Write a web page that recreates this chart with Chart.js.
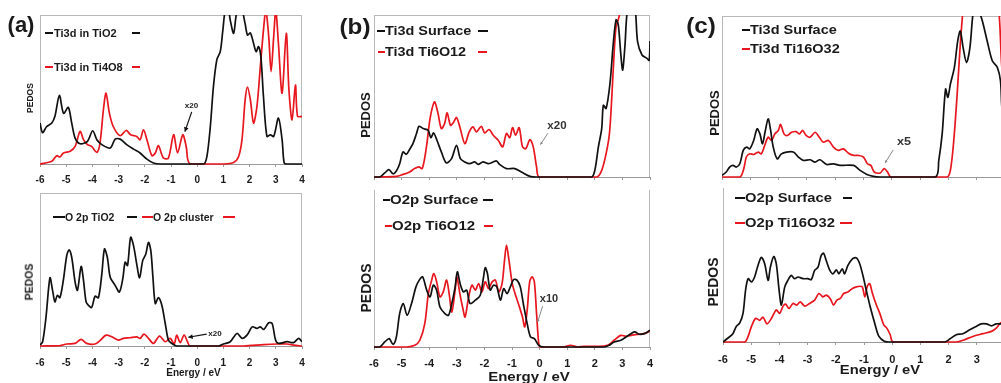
<!DOCTYPE html>
<html>
<head>
<meta charset="utf-8">
<script src="https://cdn.jsdelivr.net/npm/chart.js@4.4.1/dist/chart.umd.min.js"></script>
<style>
html,body{margin:0;padding:0;width:1001px;height:383px;overflow:hidden;background:#fff;}
body{position:relative;}
.t{position:absolute;font-family:'Liberation Sans',Arial,Helvetica,sans-serif;font-weight:bold;color:#1a1a1a;white-space:nowrap;line-height:1;z-index:3;}
.c{transform:translate(-50%,-50%);}
.l{transform-origin:left center;}
.seg{position:absolute;z-index:3;}
.rot{transform:translate(-50%,-50%) rotate(-90deg);}
</style>
</head>
<body>
<script>
// ---------------- DATA ----------------
const energyTicks = [-6,-5,-4,-3,-2,-1,0,1,2,3,4];

// (a) top : Ti3d in TiO2 (black) / Ti3d in Ti4O8 (red)
const aTopTiO2E = [-6,-5.9,-5.75,-5.55,-5.43,-5.26,-5.1,-4.92,-4.79,-4.66,-4.47,-4.19,-3.99,-3.83,-3.64,-3.32,-3.13,-2.94,-2.69,-2.43,-2.18,-1.92,-1.67,-1.41,0.24,0.37,0.5,0.62,0.75,0.88,0.98,1.07,1.18,1.26,1.39,1.49,1.58,1.7,1.83,1.92,2.03,2.15,2.25,2.34,2.43,2.53,2.66,2.79,2.92,3.1,3.24,3.32,3.43,4];
const aTopTiO2V = [27.5,21,25,27.5,32,46,34,38,27.5,17.4,13.6,15.2,22.3,16.3,13,10.7,16.7,16.7,13,10,7.4,3.3,0.7,0,0,5,25,52,70,75.4,90,103,105,96.7,87.7,100,104,104,94,86.6,88,81,75.4,78.8,72,45,18.5,19.6,18.5,30.8,16.3,0.7,0,0];
const aTopTi4O8E = [-6,-5.55,-5.36,-5.24,-5.1,-4.85,-4.66,-4.47,-4.34,-4.19,-4.03,-3.83,-3.71,-3.58,-3.48,-3.35,-3.2,-2.94,-2.71,-2.54,-2.31,-2.18,-2.05,-1.92,-1.73,-1.6,-1.48,-1.29,-1.1,-0.9,-0.75,-0.55,-0.42,-0.27,1.0,1.39,1.58,1.71,1.83,1.92,2.03,2.15,2.28,2.41,2.53,2.62,2.73,2.82,2.92,3.0,3.1,3.24,3.4,3.5,3.62,3.75,3.83,4];
const aTopTi4O8V = [0,1.8,5.6,4.7,7.4,8.5,11.8,21.9,16.3,13,11.8,7.8,14,36.4,47.5,34,25,19,22.5,19.6,18.5,16.3,23,16.3,5.6,7.4,12.3,4,4,19.6,7.4,19.6,11.8,0,0,1,5,16.3,43,51.6,43,27.5,38.6,65.4,90,103,85.5,62,85.5,103,81,47.5,87.7,50,29.7,53,32,32];

// (a) bottom : O 2p TiO2 (black) / O 2p cluster (red)
const aBotTiO2E = [-6,-5.9,-5.77,-5.62,-5.52,-5.43,-5.34,-5.24,-5.11,-4.98,-4.89,-4.79,-4.66,-4.57,-4.43,-4.34,-4.24,-4.15,-4.03,-3.9,-3.77,-3.64,-3.54,-3.43,-3.32,-3.13,-2.97,-2.84,-2.75,-2.66,-2.54,-2.43,-2.31,-2.2,-2.08,-1.96,-1.86,-1.77,-1.69,-1.6,-1.48,-1.35,-1.22,-1.1,-0.97,-0.78,0.82,1.0,1.26,1.52,1.71,1.9,2.1,2.28,2.41,2.54,2.73,2.86,2.99,3.1,3.43,3.68,3.87,4];
const aBotTiO2V = [0.6,2.8,19,44.6,36.4,28.8,33.1,31.6,42.9,59,62.8,58,41.8,36.4,52,42.9,28.8,26.6,25.1,32.5,31.6,47.2,63.4,58,45,39.6,35.3,44,54.8,52.6,71,65.6,53.7,44.6,55.8,60.2,67.7,62.3,45,27.7,31.6,26.6,14.7,3.9,1.7,0,0,1.3,2.8,8.2,5,7.1,12.5,11.5,12.5,10.8,15.2,14.7,3.9,1.7,2.8,2.2,5,2.8];
const aBotClusterE = [-6,-5.24,-4.98,-4.66,-4.43,-4.22,-3.9,-3.71,-3.48,-3.26,-3.01,-2.82,-2.57,-2.31,-2.18,-2.03,-1.86,-1.67,-1.44,-1.22,-1.03,-0.88,-0.78,-0.65,-0.5,-0.37,-0.27,1.77,2.54,3.05,3.43,3.68,4];
const aBotClusterV = [0,0.2,1.3,1.7,4.3,1.7,1.3,3.5,7.1,6,3.9,5,5.4,6,5,7.8,5,1.7,6.5,2.8,5,1.3,7.1,2.2,7.1,2.8,0,0,0.9,1.3,1.3,0.6,0];

// (b) top : Ti3d Surface (black) / Ti3d Ti6O12 (red)
const bTopSurfE = [-6,-5.79,-5.61,-5.46,-5.31,-5.19,-5.07,-4.95,-4.83,-4.71,-4.59,-4.46,-4.37,-4.22,-4.04,-3.94,-3.84,-3.72,-3.56,-3.38,-3.19,-3.01,-2.87,-2.71,-2.53,-2.35,-2.23,-2.05,-1.86,-1.68,-1.56,-1.44,-1.2,-0.9,-0.66,-0.35,-0.11,1.88,2.0,2.13,2.25,2.31,2.41,2.55,2.67,2.77,2.85,2.94,3.01,3.09,3.19,3.34,3.46,3.55,3.71,3.89,3.97,4];
const bTopSurfV = [0,0,2.5,4.5,2,3.7,8.2,15.5,14,17,20.6,26.8,31.3,29.9,28.9,24.3,27.2,22.7,15.5,8.7,11.3,19.6,11.3,9.3,8.2,9.3,7.8,9.3,8.2,9.3,9.9,7.6,5.2,5.2,3.1,0.4,0,0,4.1,18.6,29.9,44.3,42.3,57.7,82.5,97,94,76.3,66,80.4,104,106,104,83.5,75.3,73.2,72,84];
const bTopTi6E = [-6,-5.19,-4.95,-4.71,-4.53,-4.37,-4.25,-4.1,-3.98,-3.88,-3.8,-3.68,-3.56,-3.44,-3.35,-3.23,-3.11,-3.01,-2.89,-2.71,-2.55,-2.41,-2.29,-2.11,-1.99,-1.83,-1.68,-1.5,-1.34,-1.2,-1.08,-0.98,-0.87,-0.74,-0.62,-0.5,-0.35,-0.23,-0.11,-0.01,2.07,2.25,2.41,2.53,2.61,2.7,2.77,2.85,2.94,3.2,3.6,4];
const bTopTi6V = [0,0.4,1.6,3.1,5.2,6.2,5.2,18.6,35,43.3,46.4,39.2,29.9,33,39.6,32,34,36.7,30.9,20.6,27.8,30.9,27.8,31.3,27.2,29.3,25.8,22.7,18.6,26.8,24.3,30.5,25.8,30.5,18.6,17.5,23.1,18.6,6.2,0,0,4.1,14.4,26.8,47.4,76.3,92.8,97,104,130,140,140];

// (b) bottom : O2p Surface (black) / O2p Ti6O12 (red)
const bBotSurfE = [-6,-5.79,-5.61,-5.45,-5.31,-5.19,-5.07,-4.94,-4.8,-4.64,-4.48,-4.36,-4.24,-4.09,-3.97,-3.85,-3.73,-3.61,-3.43,-3.3,-3.18,-3.06,-2.98,-2.88,-2.76,-2.64,-2.52,-2.33,-2.15,-2.03,-1.97,-1.89,-1.79,-1.67,-1.55,-1.42,-1.3,-1.18,-1.06,-0.94,-0.82,-0.7,-0.58,-0.45,-0.33,-0.19,-0.03,0.15,2.34,2.52,2.7,2.94,3.13,3.31,3.45,3.61,3.79,4];
const bBotSurfV = [0,0,3.2,5.3,1.7,6.4,21.3,27.7,20.2,27.7,38.3,42.6,44.7,36.2,31.9,39.4,36.2,25.5,21.3,20.2,27.7,38.3,47.9,40.4,35.1,36.2,27.7,29.8,33,44.7,50.6,46.8,36.2,39.4,38.3,29.8,37.2,34,38.3,43,42.6,38.3,26.6,14.9,6.4,5.3,1.1,0,0,1.1,3.2,4.3,6.4,8.5,9.6,8.1,8.5,10.6];
const bBotTi6E = [-6,-4.82,-4.52,-4.34,-4.16,-4.03,-3.91,-3.83,-3.73,-3.61,-3.49,-3.37,-3.27,-3.18,-3.06,-3,-2.88,-2.78,-2.7,-2.57,-2.45,-2.33,-2.21,-2.09,-1.97,-1.85,-1.72,-1.6,-1.48,-1.36,-1.27,-1.2,-1.11,-0.99,-0.87,-0.75,-0.62,-0.54,-0.45,-0.36,-0.27,-0.19,-0.11,-0.03,0.03,0.88,1.12,1.37,1.61,2.1,2.46,2.7,2.94,3.13,3.31,3.55,3.79,4];
const bBotTi6V = [0,0,1.1,4.3,14.9,34,42.6,46.8,41.5,31.9,35.1,42.6,33,22.3,36.2,44.7,33,24.5,19.1,31.9,39.4,36.2,40.4,35.1,41.5,37.2,41.5,42.6,35.1,40.4,55.3,64.9,55.3,40.4,33,26.6,19.1,12.8,23.4,41.5,44.7,41.5,21.3,2.1,0,0,1.1,0,0.4,0.4,1.1,4.3,7.4,6.8,7.4,8.1,8.5,10.2];

// (c) top : Ti3d Surface (black) / Ti3d Ti16O32 (red)
const cTopSurfE = [-6,-5.85,-5.73,-5.61,-5.49,-5.37,-5.25,-5.13,-5.02,-4.88,-4.76,-4.66,-4.57,-4.48,-4.37,-4.29,-4.19,-4.05,-3.9,-3.72,-3.48,-3.3,-3.13,-2.89,-2.71,-2.54,-2.3,-2.06,-1.83,-1.35,-1.12,-0.88,-0.65,-0.41,1.54,1.66,1.78,1.9,1.98,2.07,2.21,2.33,2.42,2.52,2.64,2.76,2.88,2.98,3.08,3.2,3.37,3.55,3.73,3.84,3.9,4];
const cTopSurfV = [1,3.1,6.2,7.2,6.2,8.2,16.5,18.6,17.5,22.7,29.9,26.8,20.6,27.8,36.1,29.9,18.6,11.3,14.4,15.5,15.5,12.4,10.3,10.7,9.3,10.7,7.8,8.2,7.2,7.2,4.1,1.6,0.4,0,0,10.3,26.8,54.6,49.5,57.7,68,84.5,90.7,80.4,71.1,80.4,103,106,103,96.9,84.5,72.2,68,59.8,41.2,35];
const cTopTi16E = [-6,-5.37,-5.23,-5.14,-5.02,-4.88,-4.72,-4.61,-4.49,-4.37,-4.25,-4.13,-4.01,-3.93,-3.81,-3.69,-3.54,-3.38,-3.26,-3.15,-3.03,-2.89,-2.71,-2.56,-2.42,-2.24,-2.06,-1.89,-1.71,-1.53,-1.35,-1.18,-1.0,-0.86,-0.74,-0.62,-0.41,-0.27,-0.15,-0.03,1.95,2.07,2.19,2.31,2.42,2.52,2.7,3.1,3.5,3.78,3.88,4];
const cTopTi16V = [0,0,5.2,12.4,14.4,14,15.5,14.4,19.6,24.7,22.7,26.8,28.9,32.6,26.8,25.8,27.8,28.2,26.8,28.9,25.8,24.7,27.8,24.7,21.6,22.7,18.6,16.5,17.5,14.8,13.4,13.4,12.4,8.2,7.2,3.1,2.5,5.2,3.1,0,0,4.1,22.7,51.5,82.5,104,130,150,140,104,70,40];

// (c) bottom : O2p Surface (black) / O2p Ti16O32 (red)
const cBotSurfE = [-6,-5.82,-5.65,-5.53,-5.41,-5.29,-5.2,-5.11,-4.99,-4.88,-4.76,-4.64,-4.52,-4.4,-4.32,-4.2,-4.11,-4.01,-3.93,-3.81,-3.7,-3.58,-3.46,-3.34,-3.16,-2.99,-2.87,-2.75,-2.63,-2.52,-2.43,-2.34,-2.22,-2.1,-1.98,-1.89,-1.77,-1.69,-1.57,-1.41,-1.27,-1.15,-1.04,-0.92,-0.78,-0.62,-0.47,-0.27,-0.09,1.86,2.04,2.27,2.51,2.75,2.98,3.16,3.34,3.52,3.69,3.83,4];
const cBotSurfV = [0,2.6,5.4,10.1,12.2,18.6,33.6,41.1,39,42.2,49.7,55,50.7,40,48.6,55.5,50.7,33.6,24,35.8,40,43.3,41.1,42.2,41.1,41.1,40.5,46.5,48.6,56.1,57.6,52.9,46.9,44.3,46.9,44.3,47.5,44.3,49.7,54,54.6,50.7,43.3,33.6,22.9,12.2,3.6,0.4,0,0,1.9,4.7,5.4,7.9,10.1,11.8,11.8,10.5,11.8,11.8,12];
const cBotTi16E = [-6,-5.23,-5.11,-4.99,-4.84,-4.7,-4.58,-4.44,-4.28,-4.11,-3.99,-3.87,-3.78,-3.66,-3.52,-3.38,-3.26,-3.1,-2.93,-2.75,-2.6,-2.46,-2.34,-2.2,-2.08,-1.96,-1.84,-1.72,-1.57,-1.41,-1.27,-1.15,-1.06,-0.97,-0.89,-0.8,-0.7,-0.56,-0.44,-0.3,-0.19,-0.07,0.03,2.27,2.51,2.86,3.22,3.52,3.69,3.83,4];
const cBotTi16V = [0,0,3.6,10.1,15.4,14.1,16.1,11.8,15.4,20.8,18.6,23.3,24.6,21.8,25,24,26.1,23.3,25,27.2,31.5,29.3,30.4,28.3,24,27.2,28.3,31.5,32.5,34.7,35.8,36.2,35.8,29.3,35.8,37.9,31.5,24,18.6,11.1,9,4.7,0,0,1.1,3.6,5.4,6.9,9,12.2,14];

// ---------------- RENDER ----------------
const BLACK = '#111111', RED = '#e8161e';
const FONT = "'Liberation Sans', Arial, Helvetica, sans-serif";

const panels = [
  {L:40,  R:302,  T:15,  B:164, labels:true,  fs:10,   pad:7, frame:{top:1,left:1,right:1},
   series:[[aTopTiO2E,aTopTiO2V,BLACK],[aTopTi4O8E,aTopTi4O8V,RED]],
   arrows:[{x1:-0.21,y1:35,x2:-0.47,y2:21.7,c:'#111',w:1.2,h:5}]},
  {L:40,  R:302,  T:193, B:346, labels:true,  fs:10,   pad:8, frame:{top:1,left:1,right:1},
   series:[[aBotTiO2E,aBotTiO2V,BLACK],[aBotClusterE,aBotClusterV,RED]],
   arrows:[{x1:0.36,y1:7.8,x2:-0.34,y2:5.7,c:'#111',w:1.2,h:5}]},
  {L:374, R:650,  T:15,  B:177, labels:false, fs:11,   pad:7, frame:{top:1,left:1,right:1},
   series:[[bTopSurfE,bTopSurfV,BLACK],[bTopTi6E,bTopTi6V,RED]],
   arrows:[{x1:0.3,y1:27,x2:0.03,y2:20,c:'#8a8a8a',w:1,h:3}]},
  {L:374, R:650,  T:190, B:347, labels:true,  fs:11,   pad:7, frame:{top:0,left:1,right:1},
   series:[[bBotSurfE,bBotSurfV,BLACK],[bBotTi6E,bBotTi6V,RED]],
   arrows:[{x1:0.11,y1:26,x2:-0.07,y2:15.9,c:'#8a8a8a',w:1,h:3}]},
  {L:722, R:1005, T:16,  B:177, labels:false, fs:11,   pad:7, frame:{top:1,left:1,right:0},
   series:[[cTopSurfE,cTopSurfV,BLACK],[cTopTi16E,cTopTi16V,RED]],
   arrows:[{x1:0.05,y1:16.8,x2:-0.24,y2:8.7,c:'#8a8a8a',w:1,h:3}]},
  {L:723, R:1005, T:188, B:342, labels:true,  fs:11,   pad:8, frame:{top:0,left:1,right:0},
   series:[[cBotSurfE,cBotSurfV,BLACK],[cBotTi16E,cBotTi16V,RED]],
   arrows:[]}
];

function makeChart(p){
  const padL=10, padR=10, padT=6;
  const axisH = p.labels ? 24 : 6;
  const w = p.R-p.L+padL+padR, h = p.B-p.T+padT+axisH;
  const cv = document.createElement('canvas');
  cv.width = w; cv.height = h;
  cv.style.cssText = `position:absolute;left:${p.L-padL}px;top:${p.T-padT}px;width:${w}px;height:${h}px;z-index:1;`;
  document.body.appendChild(cv);
  const deco = {
    id:'deco',
    beforeDatasetsDraw(chart){
      const a = chart.chartArea, ctx = chart.ctx;
      ctx.save(); ctx.strokeStyle = '#b8b8b8'; ctx.lineWidth = 1;
      ctx.beginPath();
      if (p.frame.top){ ctx.moveTo(a.left, a.top+0.5); ctx.lineTo(a.right, a.top+0.5); }
      if (p.frame.left){ ctx.moveTo(a.left+0.5, a.top); ctx.lineTo(a.left+0.5, a.bottom); }
      if (p.frame.right){ ctx.moveTo(a.right-0.5, a.top); ctx.lineTo(a.right-0.5, a.bottom); }
      ctx.stroke(); ctx.restore();
    },
    afterDatasetsDraw(chart){
      const xs = chart.scales.x, ys = chart.scales.y, ctx = chart.ctx;
      p.arrows.forEach(ar => {
        const x1 = xs.getPixelForValue(ar.x1), y1 = ys.getPixelForValue(ar.y1);
        const x2 = xs.getPixelForValue(ar.x2), y2 = ys.getPixelForValue(ar.y2);
        ctx.save(); ctx.strokeStyle = ar.c; ctx.fillStyle = ar.c; ctx.lineWidth = ar.w;
        ctx.beginPath(); ctx.moveTo(x1,y1); ctx.lineTo(x2,y2); ctx.stroke();
        const ang = Math.atan2(y2-y1, x2-x1), hs = ar.h;
        ctx.beginPath(); ctx.moveTo(x2,y2);
        ctx.lineTo(x2-hs*Math.cos(ang-0.5), y2-hs*Math.sin(ang-0.5));
        ctx.lineTo(x2-hs*Math.cos(ang+0.5), y2-hs*Math.sin(ang+0.5));
        ctx.closePath(); ctx.fill(); ctx.restore();
      });
    }
  };
  new Chart(cv, {
    type:'line',
    data:{ datasets: p.series.map(s => ({
      data: s[0].map((x,i) => ({x:x, y:s[1][i]})),
      borderColor: s[2], borderWidth: 1.7, pointRadius: 0, fill:false,
      tension: 0.3, capBezierPoints: true,
      clip:{left:0, top:0, right:0, bottom:3}
    }))},
    options:{
      responsive:false, animation:false, devicePixelRatio:1, events:[],
      layout:{padding:{left:padL, right:padR, top:padT, bottom:0}},
      plugins:{legend:{display:false}, tooltip:{enabled:false}},
      scales:{
        x:{type:'linear', min:-6, max:4,
           afterBuildTicks: sc => { sc.ticks = energyTicks.map(v => ({value:v})); },
           ticks:{display:p.labels, color:'#1a1a1a', padding:p.pad, maxRotation:0, autoSkip:false,
                  font:{family:FONT, size:p.fs, weight:'bold'}},
           grid:{drawOnChartArea:false, drawTicks:true, tickLength:3, color:'#9a9a9a'},
           border:{color:'#9a9a9a', width:1},
           afterFit: sc => { sc.paddingLeft = 0; sc.paddingRight = 0; sc.height = axisH; }
        },
        y:{display:false, min:0, max:100}
      }
    },
    plugins:[deco]
  });
}
panels.forEach(makeChart);
</script>

<!-- panel letters -->
<div class="t c" style="left:21px;top:25px;font-size:22px;">(a)</div>
<div class="t c" style="left:355px;top:27px;font-size:22px;transform:translate(-50%,-50%) scaleX(1.1);">(b)</div>
<div class="t c" style="left:701px;top:26px;font-size:22px;transform:translate(-50%,-50%) scaleX(1.1);">(c)</div>

<!-- (a) top legend -->
<div class="seg" style="left:45px;top:32px;width:8px;height:2px;background:#111;"></div>
<div class="t l" style="left:54px;top:27.5px;font-size:11px;">Ti3d in TiO2</div>
<div class="seg" style="left:132px;top:32px;width:8px;height:1.5px;background:#111;"></div>
<div class="seg" style="left:45px;top:66px;width:8px;height:2px;background:#e8161e;"></div>
<div class="t l" style="left:54px;top:61.5px;font-size:11px;">Ti3d in Ti4O8</div>
<div class="seg" style="left:132px;top:66px;width:8px;height:1.5px;background:#e8161e;"></div>

<!-- (a) bottom legend -->
<div class="seg" style="left:53px;top:216px;width:12px;height:2px;background:#111;"></div>
<div class="t l" style="left:65px;top:211.5px;font-size:10.5px;">O 2p TiO2</div>
<div class="seg" style="left:127px;top:216px;width:10px;height:1.5px;background:#111;"></div>
<div class="seg" style="left:142px;top:216px;width:11px;height:2px;background:#e8161e;"></div>
<div class="t l" style="left:153px;top:211.5px;font-size:10.5px;">O 2p cluster</div>
<div class="seg" style="left:223px;top:216px;width:12px;height:1.5px;background:#e8161e;"></div>

<!-- (b) top legend -->
<div class="seg" style="left:377px;top:30px;width:8px;height:2px;background:#111;"></div>
<div class="t l" style="left:385px;top:25px;font-size:12px;transform:scaleX(1.2);">Ti3d Surface</div>
<div class="seg" style="left:478px;top:30px;width:10px;height:2px;background:#111;"></div>
<div class="seg" style="left:378px;top:51px;width:7px;height:2px;background:#e8161e;"></div>
<div class="t l" style="left:385px;top:46px;font-size:12px;transform:scaleX(1.2);">Ti3d Ti6O12</div>
<div class="seg" style="left:478px;top:51px;width:9px;height:2px;background:#e8161e;"></div>

<!-- (b) bottom legend -->
<div class="seg" style="left:383px;top:199px;width:7px;height:2px;background:#111;"></div>
<div class="t l" style="left:390px;top:193.5px;font-size:12.5px;transform:scaleX(1.2);">O2p Surface</div>
<div class="seg" style="left:483px;top:199px;width:10px;height:2px;background:#111;"></div>
<div class="seg" style="left:385px;top:225px;width:7px;height:2px;background:#e8161e;"></div>
<div class="t l" style="left:392px;top:219.5px;font-size:12.5px;transform:scaleX(1.2);">O2p Ti6O12</div>
<div class="seg" style="left:484px;top:225px;width:9px;height:2px;background:#e8161e;"></div>

<!-- (c) top legend -->
<div class="seg" style="left:742px;top:29px;width:8px;height:2px;background:#111;"></div>
<div class="t l" style="left:750px;top:23.5px;font-size:12.5px;transform:scaleX(1.16);">Ti3d Surface</div>
<div class="seg" style="left:742px;top:48px;width:8px;height:2px;background:#e8161e;"></div>
<div class="t l" style="left:750px;top:42.5px;font-size:12.5px;transform:scaleX(1.16);">Ti3d Ti16O32</div>

<!-- (c) bottom legend -->
<div class="seg" style="left:735px;top:197px;width:10px;height:2px;background:#111;"></div>
<div class="t l" style="left:745px;top:191.5px;font-size:12.5px;transform:scaleX(1.18);">O2p Surface</div>
<div class="seg" style="left:843px;top:197px;width:9px;height:2px;background:#111;"></div>
<div class="seg" style="left:735px;top:222px;width:10px;height:2px;background:#e8161e;"></div>
<div class="t l" style="left:745px;top:216.5px;font-size:12.5px;transform:scaleX(1.18);">O2p Ti16O32</div>
<div class="seg" style="left:840px;top:222px;width:12px;height:2px;background:#e8161e;"></div>

<!-- y-axis titles -->
<div class="t rot" style="left:30px;top:98px;font-size:8.5px;">PEDOS</div>
<div class="t rot" style="left:29px;top:282px;font-size:10.5px;">PEDOS</div>
<div class="t rot" style="left:364.5px;top:115px;font-size:13px;">PEDOS</div>
<div class="t rot" style="left:366px;top:288px;font-size:14px;">PEDOS</div>
<div class="t rot" style="left:714px;top:113px;font-size:13px;">PEDOS</div>
<div class="t rot" style="left:712.5px;top:282px;font-size:14px;">PEDOS</div>

<!-- x-axis titles -->
<div class="t c" style="left:193.5px;top:373px;font-size:10px;">Energy / eV</div>
<div class="t c" style="left:528.5px;top:377px;font-size:12.5px;transform:translate(-50%,-50%) scaleX(1.2);">Energy / eV</div>
<div class="t c" style="left:880px;top:370px;font-size:12.5px;transform:translate(-50%,-50%) scaleX(1.18);">Energy / eV</div>

<!-- magnification notes -->
<div class="t c" style="left:191.5px;top:106px;font-size:8px;color:#222;">x20</div>
<div class="t c" style="left:215px;top:334px;font-size:8px;color:#222;">x20</div>
<div class="t c" style="left:557px;top:125px;font-size:10.5px;color:#333;transform:translate(-50%,-50%) scaleX(1.1);">x20</div>
<div class="t c" style="left:549px;top:299px;font-size:10px;color:#333;transform:translate(-50%,-50%) scaleX(1.1);">x10</div>
<div class="t c" style="left:904px;top:142px;font-size:11.5px;color:#333;transform:translate(-50%,-50%) scaleX(1.1);">x5</div>
</body>
</html>
